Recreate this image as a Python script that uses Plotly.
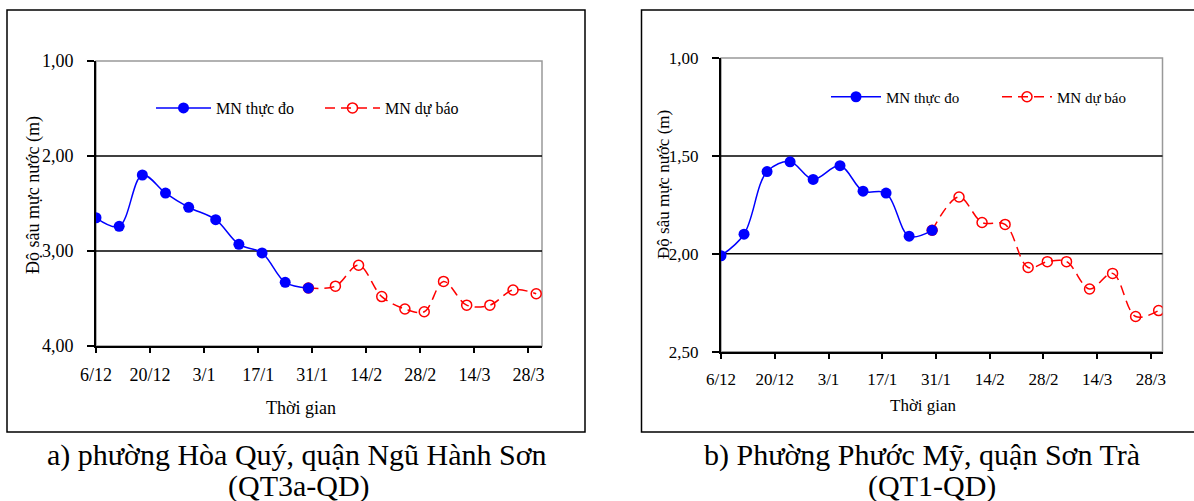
import plotly.graph_objects as go

W, H = 1194, 501
FONT = "Liberation Serif"

# ---------------- data ----------------
dates_obs = ['2018-12-06', '2018-12-12', '2018-12-18', '2018-12-24', '2018-12-30',
             '2019-01-06', '2019-01-12', '2019-01-18', '2019-01-24', '2019-01-30']
dates_fc = ['2019-01-30', '2019-02-06', '2019-02-12', '2019-02-18', '2019-02-24',
            '2019-03-01', '2019-03-06', '2019-03-12', '2019-03-18', '2019-03-24', '2019-03-30']

a_obs = [2.65, 2.74, 2.20, 2.39, 2.54, 2.67, 2.93, 3.02, 3.33, 3.39]
a_fc = [3.39, 3.37, 3.15, 3.48, 3.61, 3.64, 3.32, 3.57, 3.57, 3.41, 3.45]

b_obs = [2.01, 1.90, 1.58, 1.53, 1.62, 1.55, 1.68, 1.69, 1.91, 1.88]
b_fc = [1.88, 1.71, 1.84, 1.85, 2.07, 2.04, 2.04, 2.18, 2.10, 2.32, 2.29]

a_ticks = [1.0, 2.0, 3.0, 4.0]
b_ticks = [1.0, 1.5, 2.0, 2.5]
a_grid = [2.0, 3.0]
b_grid = [1.5, 2.0]

name_obs = "MN thực đo"
name_fc = "MN dự báo"
y_title = "Độ sâu mực nước (m)"
x_title = "Thời gian"
cap_a = ["a) phường Hòa Quý, quận Ngũ Hành Sơn", "(QT3a-QD)"]
cap_b = ["b) Phường Phước Mỹ, quận Sơn Trà", "(QT1-QD)"]

BLUE = "#0000FF"
RED = "#FF0000"

def px(x):
    return x / W

def py(y):
    return 1 - y / H

fig = go.Figure()

def add_pair(obs, fc, xa, ya, lg_obs, lg_fc):
    fig.add_trace(go.Scatter(
        x=dates_fc, y=fc, name=name_fc, mode="lines+markers",
        xaxis=xa, yaxis=ya, legend=lg_fc, showlegend=True,
        line=dict(color=RED, width=1.5, dash="10px,6px", shape="spline", smoothing=1),
        marker=dict(symbol="circle-open", size=10, color=RED, line=dict(width=1.5)),
    ))
    fig.add_trace(go.Scatter(
        x=dates_obs, y=obs, name=name_obs, mode="lines+markers",
        xaxis=xa, yaxis=ya, legend=lg_obs, showlegend=True,
        line=dict(color=BLUE, width=1.5, shape="spline", smoothing=1),
        marker=dict(symbol="circle", size=11, color=BLUE),
    ))

add_pair(a_obs, a_fc, "x", "y", "legend", "legend2")
add_pair(b_obs, b_fc, "x2", "y2", "legend3", "legend4")

DAY = 86400000

def xaxis_cfg(domain, rng, size):
    return dict(
        domain=domain, type="date", range=rng,
        tick0="2018-12-06", dtick=14 * DAY, tickformat="%-d/%-m",
        showgrid=False, zeroline=False,
        showline=True, linecolor="black", linewidth=2,
        ticks="outside", ticklen=5, tickwidth=1.5, tickcolor="black",
        ticklabelstandoff=6,
        tickfont=dict(family=FONT, size=size, color="black"),
    )

def yaxis_cfg(domain, rng, tv, anchor, size):
    return dict(
        domain=domain, range=rng, tickvals=tv, tickformat=".2f",
        anchor=anchor, showgrid=False, zeroline=False,
        showline=True, linecolor="black", linewidth=2,
        ticks="outside", ticklen=7, tickwidth=1.5, tickcolor="black",
        ticklabelstandoff=10,
        tickfont=dict(family=FONT, size=size, color="black"),
    )

fig.update_layout(
    width=W, height=H, margin=dict(l=0, r=0, t=0, b=0, pad=0, autoexpand=False),
    paper_bgcolor="white", plot_bgcolor="white",
    separators=",.", showlegend=True,
    xaxis=xaxis_cfg([px(96), px(542)], ["2018-12-06", "2019-03-31 12:00"], 18) | dict(anchor="y"),
    yaxis=yaxis_cfg([py(346), py(61)], [4, 1], a_ticks, "x", 18),
    xaxis2=xaxis_cfg([px(721), px(1162.5)], ["2018-12-06", "2019-03-31"], 17) | dict(anchor="y2"),
    yaxis2=yaxis_cfg([py(351.7), py(58)], [2.5, 1.0], b_ticks, "x2", 17),
)

def legend_cfg(x, y, size, iw):
    return dict(x=px(x), y=py(y), xanchor="left", yanchor="middle",
                bgcolor="rgba(0,0,0,0)", borderwidth=0, itemwidth=iw,
                font=dict(family=FONT, size=size, color="black"))

fig.update_layout(
    legend=legend_cfg(151, 108, 16, 55),
    legend2=legend_cfg(320, 108, 16, 55),
    legend3=legend_cfg(826, 97, 15, 50),
    legend4=legend_cfg(997, 97, 15, 50),
)

shapes = []
# outer frames
shapes.append(dict(type="rect", xref="paper", yref="paper",
                   x0=px(7), x1=px(585), y0=py(432), y1=py(10),
                   line=dict(color="black", width=1.5), layer="below"))
shapes.append(dict(type="rect", xref="paper", yref="paper",
                   x0=px(641.5), x1=1.01, y0=py(432), y1=py(10),
                   line=dict(color="black", width=1.5), layer="below"))
# plot-area borders (grey)
for xr, yr in (("x", "y"), ("x2", "y2")):
    shapes.append(dict(type="rect", xref=xr + " domain", yref=yr + " domain",
                       x0=0, x1=1, y0=0, y1=1,
                       line=dict(color="#999999", width=1.5), layer="below"))
# grid lines
for g in a_grid:
    shapes.append(dict(type="line", xref="x domain", yref="y", x0=0, x1=1, y0=g, y1=g,
                       line=dict(color="black", width=1.5), layer="below"))
for g in b_grid:
    shapes.append(dict(type="line", xref="x2 domain", yref="y2", x0=0, x1=1, y0=g, y1=g,
                       line=dict(color="black", width=1.5), layer="below"))
fig.update_layout(shapes=shapes)

ann = []
def txt(x, y, s, size, angle=0):
    ann.append(dict(xref="paper", yref="paper", x=px(x), y=py(y), text=s,
                    showarrow=False, xanchor="center", yanchor="middle",
                    textangle=angle, font=dict(family=FONT, size=size, color="black")))

txt(33, 195, y_title, 18, -90)
txt(663, 185, y_title, 17, -90)
txt(301, 408, x_title, 18)
txt(923, 405, x_title, 17)
txt(297, 455, cap_a[0], 30)
txt(299, 486, cap_a[1], 30)
txt(922, 455, cap_b[0], 30)
txt(932, 486, cap_b[1], 30)
fig.update_layout(annotations=ann)

fig.write_html(
    "out.html",
    post_script="document.body.style.margin='0px';document.body.style.overflow='hidden';",
)
